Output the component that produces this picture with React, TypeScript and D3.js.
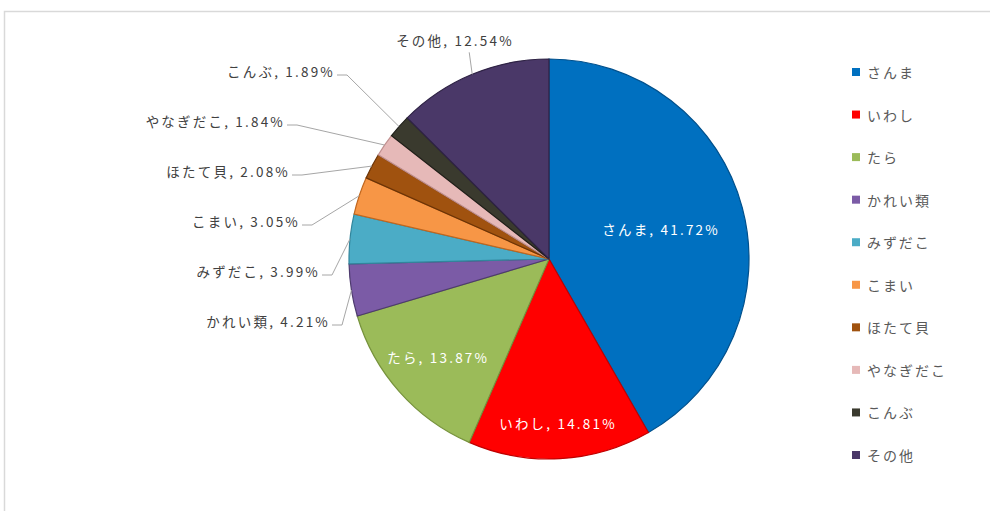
import React from 'react';
import * as d3 from 'd3';

// 魚種別 構成比
const species = ['さんま', 'いわし', 'たら', 'かれい類', 'みずだこ', 'こまい', 'ほたて貝', 'やなぎだこ', 'こんぶ', 'その他'];
const shares = [41.72, 14.81, 13.87, 4.21, 3.99, 3.05, 2.08, 1.84, 1.89, 12.54];
const colors = ['#0070C0', '#FF0000', '#9BBB59', '#7B5BA6', '#4BACC6', '#F79646', '#A0520F', '#E6B9B8', '#3A3A2E', '#4A3868'];
const edgeColors = ['#00508C', '#C00000', '#76923C', '#4E3B6E', '#31859C', '#C0661E', '#6B3306', '#C08F8E', '#1E1E18', '#2E2244'];

const W = 990;
const H = 511;
const cx = 549;
const cy = 259;
const R = 200;

const FONT = '"Noto Sans CJK JP", "Noto Sans", sans-serif';
const LABEL_SIZE = 13.5;
const LABEL_SPACING = 2.2;

const App: React.FC = () => {
  const pie = d3.pie<number>().value(d => d).sort(null);
  const arcs = pie(shares);
  const arc = d3.arc<d3.PieArcDatum<number>>().innerRadius(0).outerRadius(R);

  const fmt = (v: number) => `${v.toFixed(2)}%`;
  const pt = (a: number, r: number) => [cx + r * Math.sin(a), cy - r * Math.cos(a)];

  // inside labels for the three large slices
  const insideRadius = [0.58, 0.82, 0.74];

  // outside labels: left column for the small slices, stacked upwards
  const leftIdx = [3, 4, 5, 6, 7, 8];
  const leftEnds = [330, 320, 300, 290, 285, 335];

  const legendY = d3.scalePoint<string>().domain(species).range([72, 455]);

  return (
    <div style={{ position: 'absolute', left: 0, top: 0 }}>
      <svg width={W} height={H} style={{ display: 'block', fontFamily: FONT }}>
        <rect x={0} y={0} width={W} height={H} fill="#fff" />
        <rect x={4.5} y={11.5} width={W + 10} height={H + 10} fill="none" stroke="#D9D9D9" strokeWidth={1.5} />

        <g transform={`translate(${cx},${cy})`}>
          {arcs.map((a, i) => (
            <path key={i} d={arc(a) || ''} fill={colors[i]} stroke={edgeColors[i]} strokeWidth={1.2} />
          ))}
        </g>

        {arcs.slice(0, 3).map((a, i) => {
          const m = (a.startAngle + a.endAngle) / 2;
          const [x, y] = pt(m, R * insideRadius[i]);
          return (
            <text key={i} x={x} y={y} textAnchor="middle" dominantBaseline="central"
              fontSize={LABEL_SIZE} letterSpacing={LABEL_SPACING} fill="#fff">
              {`${species[i]}, ${fmt(shares[i])}`}
            </text>
          );
        })}

        {leftIdx.map((idx, k) => {
          const a = arcs[idx];
          const m = (a.startAngle + a.endAngle) / 2;
          const [ex, ey] = pt(m, R);
          const ly = cy + 62 - k * 50;
          const lx = leftEnds[k];
          return (
            <g key={idx}>
              <polyline
                points={`${lx + 2},${ly + 4} ${lx + 12},${ly + 4} ${ex},${ey}`}
                fill="none"
                stroke="#A6A6A6"
                strokeWidth={1}
              />
              <text x={lx} y={ly} textAnchor="end" dominantBaseline="central"
                fontSize={LABEL_SIZE} letterSpacing={LABEL_SPACING} fill="#404040">
                {`${species[idx]}, ${fmt(shares[idx])}`}
              </text>
            </g>
          );
        })}

        {(() => {
          const a = arcs[9];
          const m = (a.startAngle + a.endAngle) / 2;
          const [ex, ey] = pt(m, R);
          return (
            <g>
              <line x1={ex - 3} y1={ey - 22} x2={ex} y2={ey} stroke="#A6A6A6" strokeWidth={1} />
              <text x={455} y={40} textAnchor="middle" dominantBaseline="central"
                fontSize={LABEL_SIZE} letterSpacing={LABEL_SPACING} fill="#404040">
                {`${species[9]}, ${fmt(shares[9])}`}
              </text>
            </g>
          );
        })()}

        {species.map((s, i) => (
          <g key={s} transform={`translate(852,${legendY(s)})`}>
            <rect x={0} y={-4} width={8} height={8} fill={colors[i]} />
            <text x={15} y={0} dominantBaseline="central" fontSize={14} letterSpacing={2} fill="#595959">
              {s}
            </text>
          </g>
        ))}
      </svg>
    </div>
  );
};

export default App;
